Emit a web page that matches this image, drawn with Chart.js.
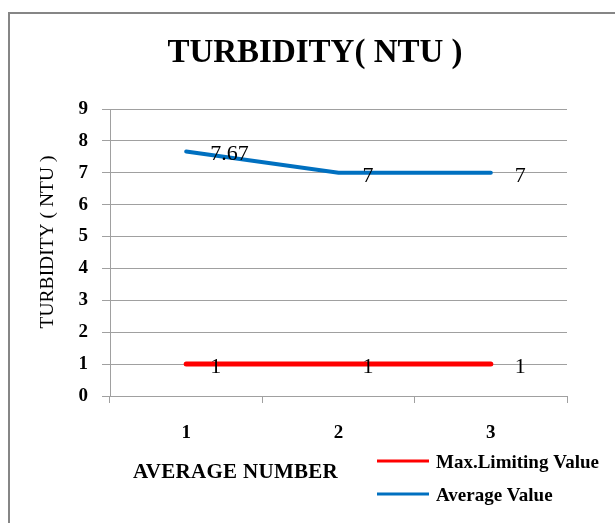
<!DOCTYPE html>
<html>
<head>
<meta charset="utf-8">
<script src="https://cdn.jsdelivr.net/npm/chart.js@4.4.0/dist/chart.umd.min.js"></script>
<style>
html, body { margin: 0; padding: 0; background: #fff; }
canvas { display: block; }
</style>
</head>
<body>
<canvas id="turbidityChart" width="615" height="523"></canvas>
<script>
// values
const categories = ['1', '2', '3'];
const maxLimitingValue = [1, 1, 1];
const averageValue = [7.67, 7, 7];
const seriesNames = ['Max.Limiting Value', 'Average Value'];
const yTickMin = 0;
const yTickMax = 9;

const SERIF = '"Liberation Serif", "Times New Roman", serif';
const GRID = '#a0a0a0';

// border, titles, point labels and legend
const decorPlugin = {
    id: 'decor',
    beforeDraw(chart) {
        const ctx = chart.ctx;
        ctx.save();
        ctx.fillStyle = '#fff';
        ctx.fillRect(0, 0, chart.width, chart.height);
        ctx.strokeStyle = '#868686';
        ctx.lineWidth = 2;
        ctx.strokeRect(9, 13, chart.width + 20, chart.height + 20);
        ctx.restore();
    },
    afterDatasetsDraw(chart) {
        const ctx = chart.ctx;
        ctx.save();
        ctx.fillStyle = '#000';
        ctx.font = '22px ' + SERIF;
        ctx.textAlign = 'left';
        ctx.textBaseline = 'alphabetic';
        chart.data.datasets.forEach((ds, i) => {
            const meta = chart.getDatasetMeta(i);
            meta.data.forEach((pt, j) => {
                ctx.fillText(String(ds.data[j]), pt.x + 24, pt.y + 9);
            });
        });
        ctx.restore();
    },
    afterDraw(chart) {
        const ctx = chart.ctx;
        ctx.save();
        ctx.fillStyle = '#000';
        ctx.textBaseline = 'alphabetic';

        // chart title
        ctx.font = 'bold 33px ' + SERIF;
        ctx.textAlign = 'center';
        ctx.fillText('TURBIDITY( NTU )', 315, 62);

        // y axis title
        ctx.save();
        ctx.translate(48, 242);
        ctx.rotate(-Math.PI / 2);
        ctx.font = '19.5px ' + SERIF;
        ctx.textBaseline = 'middle';
        ctx.fillText('TURBIDITY ( NTU )', 0, 0);
        ctx.restore();

        // x axis title
        ctx.font = 'bold 21px ' + SERIF;
        ctx.textAlign = 'left';
        ctx.letterSpacing = '0.3px';
        ctx.fillText('AVERAGE NUMBER', 133, 478);
        ctx.letterSpacing = '0px';

        // legend
        ctx.font = 'bold 19px ' + SERIF;
        chart.data.datasets.forEach((ds, i) => {
            const y = 461 + i * 33;
            ctx.strokeStyle = ds.borderColor;
            ctx.lineWidth = 3;
            ctx.beginPath();
            ctx.moveTo(377, y);
            ctx.lineTo(429, y);
            ctx.stroke();
            ctx.fillText(ds.label, 436, y + 7);
        });
        ctx.restore();
    }
};

new Chart(document.getElementById('turbidityChart'), {
    type: 'line',
    data: {
        labels: categories,
        datasets: [
            {
                label: seriesNames[0],
                data: maxLimitingValue,
                borderColor: '#ff0000',
                borderWidth: 5,
                borderCapStyle: 'round',
                pointRadius: 0,
                tension: 0
            },
            {
                label: seriesNames[1],
                data: averageValue,
                borderColor: '#0070c0',
                borderWidth: 4,
                borderCapStyle: 'round',
                pointRadius: 0,
                tension: 0
            }
        ]
    },
    options: {
        responsive: false,
        animation: false,
        layout: { padding: { top: 109, right: 48, left: 0, bottom: 0 } },
        plugins: {
            legend: { display: false },
            title: { display: false },
            tooltip: { enabled: false }
        },
        scales: {
            x: {
                offset: true,
                grid: { offset: true, drawOnChartArea: false, drawTicks: true, tickLength: 7, color: GRID },
                border: { color: GRID },
                ticks: { color: '#000', padding: 19, font: { family: SERIF, size: 19, weight: 'bold' } },
                afterFit(scale) { scale.height = 127; }
            },
            y: {
                min: yTickMin,
                max: yTickMax,
                grid: { color: GRID, tickLength: 8 },
                border: { color: GRID },
                ticks: { stepSize: 1, color: '#000', padding: 14, font: { family: SERIF, size: 19, weight: 'bold' } },
                afterFit(scale) { scale.width = 110; }
            }
        }
    },
    plugins: [decorPlugin]
});
</script>
</body>
</html>
